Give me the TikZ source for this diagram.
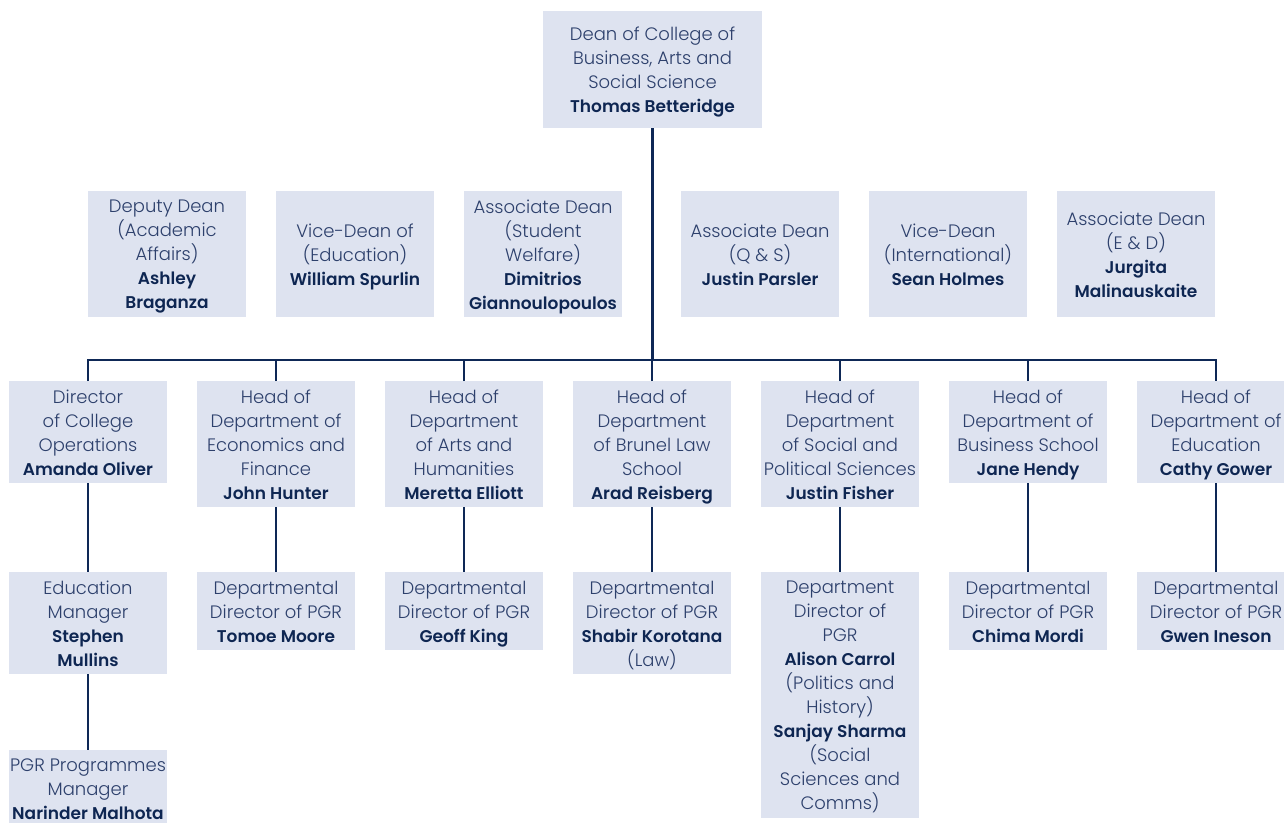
\documentclass[tikz,border=0pt]{standalone}
\usepackage{fontspec}
\setmainfont{Poppins}[UprightFont={* Light},BoldFont={* SemiBold}]
\definecolor{boxfill}{RGB}{222,227,240}
\definecolor{txtc}{RGB}{45,64,108}
\definecolor{boldc}{RGB}{14,38,82}
\definecolor{linec}{RGB}{14,40,86}
\newcommand\pname[1]{{\fontsize{17}{24}\selectfont\bfseries\color{boldc}#1}}
\tikzset{
  box/.style={fill=boxfill, inner sep=0pt, minimum width=158pt, anchor=north},
  lab/.style={inner sep=0pt, align=center, yshift=-4pt,
    font=\fontsize{18}{24}\selectfont, text=txtc,
    execute at begin node=\strut, execute at end node=\strut},
  conn/.style={draw=linec, line width=2.8pt},
}
\begin{document}
\begin{tikzpicture}[x=1pt,y=-1pt]
\useasboundingbox (0,0) rectangle (1284,822);
\clip (0,0) rectangle (1284,822);
% Dean
\node[box, minimum width=219pt, minimum height=117pt, label={[lab]center:{Dean of College of\\Business, Arts and\\Social Science\\\pname{Thomas Betteridge}}}] (dean) at (652.5,11) {};
% deputies
\node[box, minimum height=126pt, label={[lab]center:{Deputy Dean\\(Academic\\Affairs)\\\pname{Ashley}\\\pname{Braganza}}}] (d1) at (167,191) {};
\node[box, minimum height=126pt, label={[lab]center:{Vice-Dean of\\(Education)\\\pname{William Spurlin}}}] (d2) at (355,191) {};
\node[box, minimum height=126pt, label={[lab]center:{Associate Dean\\(Student\\Welfare)\\\pname{Dimitrios}\\\pname{Giannoulopoulos}}}] (d3) at (543,191) {};
\node[box, minimum height=126pt, label={[lab]center:{Associate Dean\\(Q \& S)\\\pname{Justin Parsler}}}] (d4) at (760,191) {};
\node[box, minimum height=126pt, label={[lab]center:{Vice-Dean\\(International)\\\pname{Sean Holmes}}}] (d5) at (948,191) {};
\node[box, minimum height=126pt, label={[lab]center:{Associate Dean\\(E \& D)\\\pname{Jurgita}\\\pname{Malinauskaite}}}] (d6) at (1136,191) {};
% heads
\node[box, minimum height=102pt, label={[lab]center:{Director\\of College\\Operations\\\pname{Amanda Oliver}}}] (h1) at (88,381) {};
\node[box, minimum height=126pt, label={[lab]center:{Head of\\Department of\\Economics and\\Finance\\\pname{John Hunter}}}] (h2) at (276,381) {};
\node[box, minimum height=126pt, label={[lab]center:{Head of\\Department\\of Arts and\\Humanities\\\pname{Meretta Elliott}}}] (h3) at (464,381) {};
\node[box, minimum height=126pt, label={[lab]center:{Head of\\Department\\of Brunel Law\\School\\\pname{Arad Reisberg}}}] (h4) at (652,381) {};
\node[box, minimum height=126pt, label={[lab]center:{Head of\\Department\\of Social and\\Political Sciences\\\pname{Justin Fisher}}}] (h5) at (840,381) {};
\node[box, minimum height=102pt, label={[lab]center:{Head of\\Department of\\Business School\\\pname{Jane Hendy}}}] (h6) at (1028,381) {};
\node[box, minimum height=102pt, label={[lab]center:{Head of\\Department of\\Education\\\pname{Cathy Gower}}}] (h7) at (1216,381) {};
% PGR row
\node[box, minimum height=102pt, label={[lab]center:{Education\\Manager\\\pname{Stephen}\\\pname{Mullins}}}] (p1) at (88,572) {};
\node[box, minimum height=78pt, label={[lab]center:{Departmental\\Director of PGR\\\pname{Tomoe Moore}}}] (p2) at (276,572) {};
\node[box, minimum height=78pt, label={[lab]center:{Departmental\\Director of PGR\\\pname{Geoff King}}}] (p3) at (464,572) {};
\node[box, minimum height=102pt, label={[lab]center:{Departmental\\Director of PGR\\\pname{Shabir Korotana}\\(Law)}}] (p4) at (652,572) {};
\node[box, minimum height=246pt, label={[lab]center:{Department\\Director of\\PGR\\\pname{Alison Carrol}\\(Politics and\\History)\\\pname{Sanjay Sharma}\\(Social\\Sciences and\\Comms)}}] (p5) at (840,572) {};
\node[box, minimum height=78pt, label={[lab]center:{Departmental\\Director of PGR\\\pname{Chima Mordi}}}] (p6) at (1028,572) {};
\node[box, minimum height=78pt, label={[lab]center:{Departmental\\Director of PGR\\\pname{Gwen Ineson}}}] (p7) at (1216,572) {};
\node[box, minimum height=78pt, label={[lab]center:{PGR Programmes\\Manager\\\pname{Narinder Malhota}}}] (q1) at (88,750) {};
% connectors
\coordinate (bar) at (652,360);
\draw[conn] (dean.south) -- (dean.south |- bar);
\draw[conn] (h1.north) -- (h1.north |- bar) -- (h7.north |- bar) -- (h7.north);
\foreach \n in {h2,h3,h4,h5,h6} \draw[conn] (\n.north) -- (\n.north |- bar);
\foreach \a/\b in {h1/p1,h2/p2,h3/p3,h4/p4,h5/p5,h6/p6,h7/p7,p1/q1} \draw[conn] (\a.south) -- (\b.north);
\end{tikzpicture}
\end{document}
